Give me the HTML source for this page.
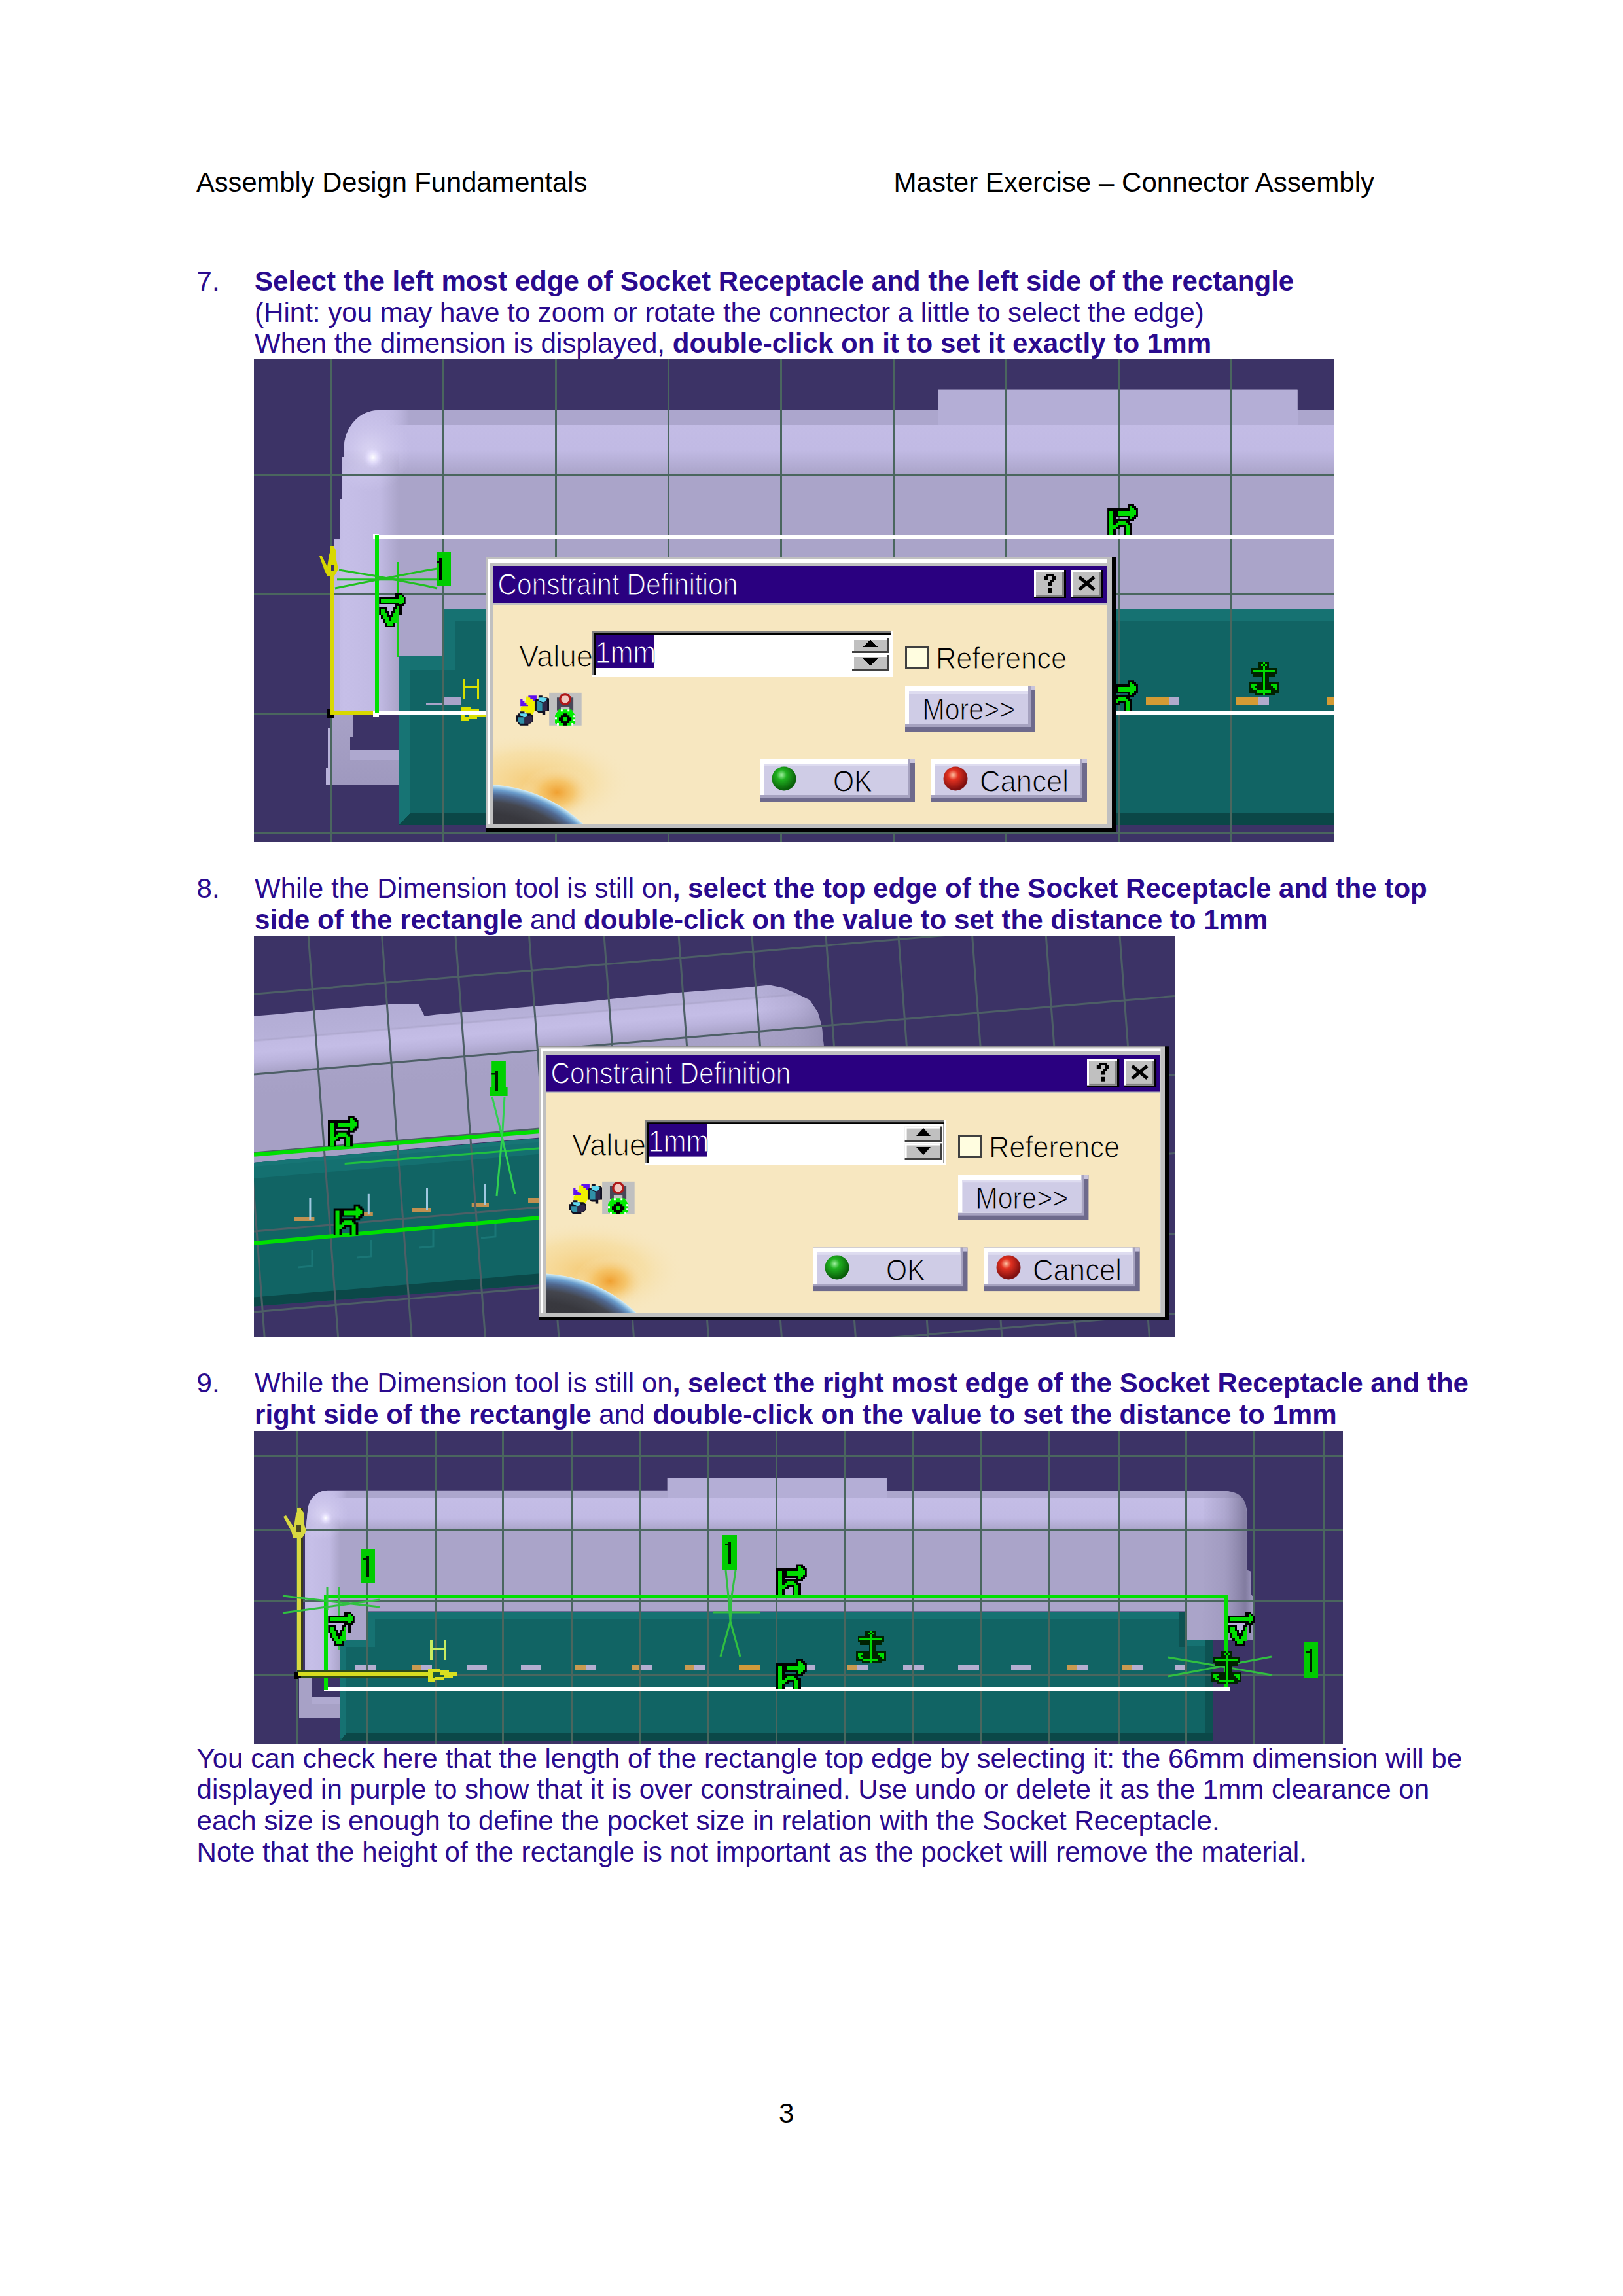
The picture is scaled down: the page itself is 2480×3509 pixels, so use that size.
<!DOCTYPE html>
<html><head><meta charset="utf-8">
<style>
html,body{margin:0;padding:0;background:#fff;}
body{width:2480px;height:3509px;position:relative;overflow:hidden;font-family:"Liberation Sans",sans-serif;}
.t{position:absolute;white-space:pre;font-size:42.1px;line-height:47.9px;color:#2a0a8e;}
.k{color:#000;}
b{font-weight:bold;}
.img{position:absolute;overflow:hidden;}
.img svg{display:block;}
</style></head><body>
<svg width="0" height="0" style="position:absolute">
<defs>
<symbol id="icH" viewBox="280 258 1085 1077">
 <path fill="#000" fill-rule="evenodd" d="M280 395 H1000 V258 H1225 V325 H1300 V395 H1365 V690 H1300 V760 H1225 V830 H1070 V905 H1160 V1335 H860 V1060 H720 V1140 H575 V1335 H280 Z M580 700 H1000 V760 H580 Z"/>
 <path fill="#00dd00" d="M350 490 H490 V1335 H350 Z M650 490 H1070 V650 H650 Z M1070 325 H1160 V395 H1225 V460 H1300 V620 H1225 V690 H1160 V760 H1070 Z M650 830 H940 V905 H1000 V970 H1070 V1335 H930 V990 H650 V1060 H580 V1130 H490 V980 H580 V905 H650 Z"/>
</symbol>
<symbol id="icV" viewBox="250 300 1095 1420">
 <path fill="#000" d="M250 460 H920 V300 H1190 V380 H1270 V460 H1345 V770 H1270 V850 H1190 V1210 H1085 V850 H1000 V1540 H920 V1720 H520 V1540 H410 V1380 H330 V1210 H250 Z"/>
 <path fill="#b9b2dc" d="M250 770 H920 V870 H250 Z M590 870 H840 V1060 H760 V1210 H680 V1060 H590 Z"/>
 <path fill="#00dd00" d="M330 545 H1085 V380 H1190 V460 H1270 V690 H1190 V770 H1085 V690 H330 Z M330 960 H510 V1130 H590 V1300 H680 V1460 H760 V1300 H840 V1130 H920 V960 H1000 V1540 H840 V1640 H600 V1540 H520 V1380 H410 V1210 H330 Z"/>
 <path fill="#000" d="M680 1210 H760 V1460 H680 Z"/>
</symbol>
<symbol id="icA" viewBox="205 175 1160 1245">
 <path fill="#002200" d="M575 175 H970 V400 H1300 V620 H1195 V715 H970 V955 H1365 V1340 H1195 V1420 H430 V1340 H205 V955 H720 V715 H355 V620 H280 V400 H575 Z"/>
 <path fill="#00dd00" d="M350 480 H1200 V550 H350 Z M750 330 H830 V1420 H750 Z M280 1030 H500 V1110 H420 V1180 H500 V1250 H350 V1180 H280 Z M1050 1030 H1300 V1250 H1195 V1180 H1130 V1110 H1050 Z M500 1250 H1050 V1340 H500 Z M680 250 H750 V320 H680 Z M830 250 H900 V320 H830 Z M750 175 H830 V250 H750 Z"/>
</symbol>
<radialGradient id="a1earth" cx="0.5" cy="0.5" r="0.5">
 <stop offset="0" stop-color="#303034"/><stop offset="0.8" stop-color="#38383e"/><stop offset="0.88" stop-color="#44464e"/><stop offset="0.93" stop-color="#506890"/><stop offset="0.965" stop-color="#6a9ccc"/><stop offset="0.99" stop-color="#b0d8ee"/><stop offset="1" stop-color="#e0f0f4"/>
</radialGradient>
<radialGradient id="a1glowY" cx="0.5" cy="0.5" r="0.5">
 <stop offset="0" stop-color="#f5c870" stop-opacity="0.9"/><stop offset="0.6" stop-color="#f6d890" stop-opacity="0.5"/><stop offset="1" stop-color="#f7e7c0" stop-opacity="0"/>
</radialGradient>
<radialGradient id="a1glow" cx="0.5" cy="0.5" r="0.5">
 <stop offset="0" stop-color="#f0a030"/><stop offset="0.45" stop-color="#f5c060" stop-opacity="0.8"/><stop offset="1" stop-color="#f7e7c0" stop-opacity="0"/>
</radialGradient>
<radialGradient id="a1gball" cx="0.4" cy="0.35" r="0.6">
 <stop offset="0" stop-color="#a0f0a0"/><stop offset="0.35" stop-color="#20b020"/><stop offset="1" stop-color="#0a600a"/>
</radialGradient>
<radialGradient id="a1rball" cx="0.4" cy="0.35" r="0.6">
 <stop offset="0" stop-color="#ffc0a0"/><stop offset="0.35" stop-color="#e03020"/><stop offset="1" stop-color="#801010"/>
</radialGradient>
<g id="dlg">
<!-- DIALOG -->
<rect x="742.5" y="852.3" width="962.5" height="418.7" fill="#000"/>
<rect x="742.5" y="852.3" width="956.5" height="413.7" fill="#c0c0c0"/>
<rect x="745" y="855.4" width="947.4" height="404" fill="#ffffff"/>
<rect x="748.7" y="860" width="943.7" height="399" fill="#c0c0c0"/>
<rect x="754" y="865" width="937" height="56.5" fill="#2a0080"/>
<rect x="754" y="924" width="938" height="335" fill="#f7e7c0"/>
<!-- earth -->

<clipPath id="a1clip"><rect x="754" y="924" width="938" height="335"/></clipPath>
<g clip-path="url(#a1clip)" shape-rendering="geometricPrecision">
 <ellipse cx="815" cy="1195" rx="150" ry="75" fill="url(#a1glowY)"/>
 <ellipse cx="851" cy="1211" rx="55" ry="40" fill="url(#a1glow)"/>
 <circle cx="740" cy="1420" r="221" fill="url(#a1earth)"/>
</g>
<text x="760.6" y="909.3" font-family="Liberation Sans" font-size="45.5" fill="#ffffff" stroke="#2a0080" stroke-width="1.2" textLength="366.8" lengthAdjust="spacingAndGlyphs">Constraint Definition</text>
<!-- ? and X buttons -->
<g>
 <rect x="1580" y="871.2" width="49.3" height="42.8" fill="#000"/><rect x="1580" y="871.2" width="46" height="40.5" fill="#fff"/><rect x="1583.2" y="874" width="42.8" height="37.7" fill="#808080"/><rect x="1583.2" y="874" width="39.7" height="34.9" fill="#c0c0c0"/>
 <rect x="1636" y="871.2" width="50.1" height="42.8" fill="#000"/><rect x="1636" y="871.2" width="47" height="40.5" fill="#fff"/><rect x="1639.2" y="874" width="43.8" height="37.7" fill="#808080"/><rect x="1639.2" y="874" width="40.7" height="34.9" fill="#c0c0c0"/>
 <path fill="#000" d="M1598 877.2 H1610.8 V880.4 H1614 V886.8 H1610.8 V890 H1607.6 V895.6 H1601.2 V890 H1604.4 V886.8 H1607.6 V880.4 H1601.2 V886.8 H1594.8 V880.4 H1598 Z M1601.2 898.8 H1607.6 V905.7 H1601.2 Z"/>
 <path d="M1649 882 L1672 901 M1672 882 L1649 901" stroke="#000" stroke-width="5" shape-rendering="geometricPrecision"/>
</g>
<text x="793" y="1019.2" font-family="Liberation Sans" font-size="45.5" fill="#000" stroke="#f7e7c0" stroke-width="1.1" textLength="113" lengthAdjust="spacingAndGlyphs">Value</text>
<!-- input field -->
<rect x="904" y="965" width="460" height="69" fill="#ffffff"/>
<rect x="904" y="965" width="457" height="66" fill="#808080"/>
<rect x="907.4" y="968.2" width="453.6" height="62.8" fill="#000"/>
<rect x="910.6" y="971" width="450" height="60" fill="#ffffff"/>
<rect x="910.6" y="971" width="89.4" height="49.6" fill="#2a0080"/>
<text x="909.7" y="1013.3" font-family="Liberation Sans" font-size="45.5" fill="#ffffff" stroke="#2a0080" stroke-width="1.1" textLength="92.6" lengthAdjust="spacingAndGlyphs">1mm</text>
<!-- spinner -->
<rect x="1301.6" y="974.6" width="57" height="23.3" fill="#c0c0c0"/>
<rect x="1301.6" y="974.6" width="54" height="3" fill="#fff"/><rect x="1301.6" y="974.6" width="3" height="21" fill="#fff"/>
<rect x="1301.6" y="995" width="57" height="3" fill="#404040"/><rect x="1355.6" y="974.6" width="3" height="23.3" fill="#404040"/>
<rect x="1301.6" y="1000.5" width="57" height="25.5" fill="#c0c0c0"/>
<rect x="1301.6" y="1000.5" width="54" height="3" fill="#fff"/><rect x="1301.6" y="1000.5" width="3" height="23" fill="#fff"/>
<rect x="1301.6" y="1023" width="57" height="3" fill="#404040"/><rect x="1355.6" y="1000.5" width="3" height="25.5" fill="#404040"/>
<path d="M1330 977 L1341 989 L1319 989 Z" fill="#000"/>
<path d="M1319 1006 L1341 1006 L1330 1018 Z" fill="#000"/>
<!-- checkbox -->
<rect x="1383" y="987.5" width="36.4" height="35.5" fill="#404040"/>
<rect x="1386" y="990.5" width="30.4" height="29.5" fill="#fffde0"/>
<text x="1430" y="1022.2" font-family="Liberation Sans" font-size="45.5" fill="#000" stroke="#f7e7c0" stroke-width="1.1" textLength="200" lengthAdjust="spacingAndGlyphs">Reference</text>
<!-- More button -->
<g>
 <rect x="1383.0" y="1049.0" width="199.4" height="68.7" fill="#6e6a8c"/>
 <rect x="1383.0" y="1049.0" width="192.4" height="61.7" fill="#a6a2c0"/>
 <rect x="1383.0" y="1049.0" width="188.4" height="57.7" fill="#ffffff"/>
 <rect x="1389.4" y="1056.2" width="182.0" height="50.5" fill="#cfcce6"/>
 <rect x="1389.4" y="1056.2" width="182.0" height="4" fill="#dedcf0"/>
 <rect x="1575.4" y="1049.0" width="7" height="6" fill="#c8c4dc"/>
 <text x="1409.4" y="1100.3" font-family="Liberation Sans" font-size="45.5" fill="#000" stroke="#cfcce6" stroke-width="1.1" textLength="141.8" lengthAdjust="spacingAndGlyphs">More&gt;&gt;</text>
</g>
<!-- OK button -->
<g>
 <rect x="1161.2" y="1159.6" width="236.3" height="66.5" fill="#6e6a8c"/>
 <rect x="1161.2" y="1159.6" width="229.3" height="59.5" fill="#a6a2c0"/>
 <rect x="1161.2" y="1159.6" width="225.3" height="55.5" fill="#ffffff"/>
 <rect x="1167.6" y="1166.8" width="218.9" height="48.3" fill="#cfcce6"/>
 <rect x="1167.6" y="1166.8" width="218.9" height="4" fill="#dedcf0"/>
 <rect x="1390.5" y="1159.6" width="7" height="6" fill="#c8c4dc"/>
 <circle cx="1198" cy="1190" r="18.5" fill="url(#a1gball)" shape-rendering="geometricPrecision"/>
 <text x="1273" y="1209.6" font-family="Liberation Sans" font-size="45.5" fill="#000" stroke="#cfcce6" stroke-width="1.1" textLength="59.8" lengthAdjust="spacingAndGlyphs">OK</text>
</g>
<g>
 <rect x="1422.6" y="1159.6" width="238.1" height="66.5" fill="#6e6a8c"/>
 <rect x="1422.6" y="1159.6" width="231.1" height="59.5" fill="#a6a2c0"/>
 <rect x="1422.6" y="1159.6" width="227.1" height="55.5" fill="#ffffff"/>
 <rect x="1429.0" y="1166.8" width="220.7" height="48.3" fill="#cfcce6"/>
 <rect x="1429.0" y="1166.8" width="220.7" height="4" fill="#dedcf0"/>
 <rect x="1653.7" y="1159.6" width="7" height="6" fill="#c8c4dc"/>
 <circle cx="1460" cy="1190" r="18.5" fill="url(#a1rball)" shape-rendering="geometricPrecision"/>
 <text x="1497" y="1209.6" font-family="Liberation Sans" font-size="45.5" fill="#000" stroke="#cfcce6" stroke-width="1.1" textLength="136" lengthAdjust="spacingAndGlyphs">Cancel</text>
</g>
<!-- dialog icons -->
<g transform="translate(780 1040) scale(0.07394)" shape-rendering="geometricPrecision">
 <path fill="#f0f000" d="M330 330 H420 L500 380 V620 L460 700 H370 L290 640 H210 V560 L290 500 Z"/>
 <path fill="#6010f0" d="M205 380 H250 V420 H290 V460 H330 V500 H365 V530 H205 Z M370 300 H540 V420 H470 V380 H410 V340 H370 Z"/>
 <path fill="#101020" d="M580 300 H660 V340 H760 L800 380 V630 H720 V710 H660 V670 H580 L540 630 H500 V420 L540 380 H580 Z"/>
 <path fill="#60d8f0" d="M580 340 H700 L760 380 L700 460 L580 420 Z"/>
 <path fill="#3090a8" d="M540 420 L660 460 V630 H540 Z"/>
 <path fill="#302848" d="M660 460 L760 420 V630 H660 Z"/>
 <path fill="#101020" d="M200 640 H290 V680 H410 L460 720 V850 L410 890 H370 V930 H200 L160 890 V850 H120 V720 H160 V680 H200 Z"/>
 <path fill="#60d8f0" d="M200 680 H330 L370 760 H280 L200 720 Z"/>
 <path fill="#3090a8" d="M160 760 H290 V890 H200 L160 850 Z"/>
 <path fill="#302848" d="M290 760 L410 720 L450 760 V850 L370 890 H290 Z"/>
 <rect x="800" y="255" width="670" height="675" fill="#c0c0c0"/>
 <path fill="#484858" d="M960 340 H1300 V620 H1220 V540 H1040 V620 H960 Z"/>
 <circle cx="1130" cy="385" r="105" fill="#f0c8c0" stroke="#b01818" stroke-width="45"/>
 <path fill="#00ee00" d="M1000 600 H1260 L1340 720 V880 L1260 930 H1000 L920 880 V720 Z"/>
 <path fill="#000" d="M1090 680 H1170 V720 H1220 V760 H1260 V840 H1220 V880 H1170 V930 H1090 V880 H1040 V840 H1000 V760 H1040 V720 H1090 Z M1090 760 V840 H1170 V760 Z" fill-rule="evenodd"/>
 <path fill="#00ee00" d="M1090 760 H1170 V840 H1090 Z"/>
 <path fill="#ffffff" d="M920 760 H960 V800 H920 Z M1300 720 H1340 V760 H1300 Z M1300 800 H1340 V840 H1300 Z M960 880 H1000 V930 H960 Z M1260 880 H1300 V930 H1260 Z M1040 600 H1080 V640 H1040 Z M1180 600 H1220 V640 H1180 Z"/>
</g>
</g>
</defs>
</svg>

<div class="t k" style="left:300px;top:254.6px;font-size:41.67px">Assembly Design Fundamentals</div>
<div class="t k" style="left:1365.5px;top:254.6px">Master Exercise – Connector Assembly</div>

<div class="t" style="left:300.5px;top:405.6px">7.</div>
<div class="t" style="left:389px;top:405.6px"><b>Select the left most edge of Socket Receptacle and the left side of the rectangle</b>
(Hint: you may have to zoom or rotate the connector a little to select the edge)
When the dimension is displayed, <b>double-click on it to set it exactly to 1mm</b></div>

<div class="t" style="left:300.5px;top:1334.4px">8.</div>
<div class="t" style="left:389px;top:1334.4px">While the Dimension tool is still on<b>, select the top edge of the Socket Receptacle and the top</b>
<b>side of the rectangle</b> and <b>double-click on the value to set the distance to 1mm</b></div>

<div class="t" style="left:300.5px;top:2089.8px">9.</div>
<div class="t" style="left:389px;top:2089.8px">While the Dimension tool is still on<b>, select the right most edge of the Socket Receptacle and the</b>
<b>right side of the rectangle</b> and <b>double-click on the value to set the distance to 1mm</b></div>

<div class="t" style="left:300.5px;top:2663.5px">You can check here that the length of the rectangle top edge by selecting it: the 66mm dimension will be
displayed in purple to show that it is over constrained. Use undo or delete it as the 1mm clearance on
each size is enough to define the pocket size in relation with the Socket Receptacle.
Note that the height of the rectangle is not important as the pocket will remove the material.</div>

<div class="t k" style="left:1190px;top:3205.6px">3</div>

<!-- IMAGE 1 -->
<div class="img" id="im1" style="left:388px;top:549px;width:1651px;height:738px;background:#3c3366"><svg width="1651" height="738" viewBox="388 549 1651 738" shape-rendering="crispEdges">
<defs>
<linearGradient id="a1tb" gradientUnits="userSpaceOnUse" x1="585" y1="0" x2="625" y2="0"><stop offset="0" stop-color="#c4bde6" stop-opacity="0"/><stop offset="1" stop-color="#aca6cd"/></linearGradient>
<linearGradient id="a1colfade" gradientUnits="userSpaceOnUse" x1="0" y1="690" x2="0" y2="728"><stop offset="0" stop-color="#fff" stop-opacity="0"/><stop offset="1" stop-color="#fff"/></linearGradient>
<radialGradient id="a1glowc" gradientUnits="userSpaceOnUse" cx="566" cy="690" r="62"><stop offset="0" stop-color="#f0ecff" stop-opacity="0.55"/><stop offset="0.5" stop-color="#e8e2ff" stop-opacity="0.25"/><stop offset="1" stop-color="#e0daff" stop-opacity="0"/></radialGradient>
<radialGradient id="a1corner" gradientUnits="userSpaceOnUse" cx="568" cy="692" r="62"><stop offset="0" stop-color="#e2dcff"/><stop offset="0.35" stop-color="#d4cef6"/><stop offset="0.75" stop-color="#c5bfe7"/><stop offset="1" stop-color="#bfb8e1"/></radialGradient>
<linearGradient id="a1hb" x1="0" y1="0" x2="0" y2="1">
 <stop offset="0" stop-color="#c4bde6"/><stop offset="0.62" stop-color="#c1bae4"/><stop offset="1" stop-color="#aaa4c9"/>
</linearGradient>
<linearGradient id="a1col" x1="0" y1="0" x2="1" y2="0">
 <stop offset="0" stop-color="#c0b9e2"/><stop offset="0.2" stop-color="#c6bfe8"/><stop offset="0.72" stop-color="#c0b9e2"/><stop offset="1" stop-color="#aaa4c9"/>
</linearGradient>
<radialGradient id="a1spec" cx="0.5" cy="0.5" r="0.5">
 <stop offset="0" stop-color="#ffffff"/><stop offset="0.5" stop-color="#e6e0ff" stop-opacity="0.7"/><stop offset="1" stop-color="#d0c9f0" stop-opacity="0"/>
</radialGradient>
<linearGradient id="a1L" x1="0" y1="0" x2="0" y2="1">
 <stop offset="0" stop-color="#a7a1c6"/><stop offset="1" stop-color="#9f99bf"/>
</linearGradient>
</defs>
<rect x="388" y="549" width="1651" height="738" fill="#3c3366"/>

<!-- lavender main body -->
<clipPath id="a1bodyclip"><path d="M511 1093 L511 824 L519.6 824 L519.6 762 L522.7 762 L522.7 699 L525.7 699 L525.7 685 A53 58 0 0 1 578.7 626.9 L1433 626.9 L1433 595.6 L1982.6 595.6 L1982.6 626.9 L2039 626.9 L2039 931 L678 931 L678 1003 L610 1003 L610 1093 Z"/></clipPath>
<mask id="a1colmask" maskUnits="userSpaceOnUse" x="500" y="600" width="120" height="500"><rect x="500" y="600" width="120" height="500" fill="url(#a1colfade)"/></mask>
<path d="M511 1093 L511 824 L519.6 824 L519.6 762 L522.7 762 L522.7 699 L525.7 699 L525.7 685 A53 58 0 0 1 578.7 626.9 L1433 626.9 L1433 595.6 L1982.6 595.6 L1982.6 626.9 L2039 626.9 L2039 931 L678 931 L678 1003 L610 1003 L610 1093 Z" fill="#aaa4c9" shape-rendering="geometricPrecision"/>
<g clip-path="url(#a1bodyclip)">
<rect x="511" y="626.9" width="1528" height="98.1" fill="url(#a1hb)"/>
<rect x="505" y="680" width="105" height="413" fill="url(#a1col)" mask="url(#a1colmask)"/>
<rect x="578.7" y="626.9" width="854.3" height="21.8" fill="url(#a1tb)"/>
<rect x="1433" y="595.6" width="549.6" height="53.1" fill="#b4aed6"/>
<rect x="1982.6" y="626.9" width="57" height="21.8" fill="#aca6cd"/>
<circle cx="566" cy="690" r="62" fill="url(#a1glowc)"/>
</g>
<rect x="511" y="824" width="8.6" height="269" fill="#bdb6e0"/>
<ellipse cx="570" cy="699" rx="17" ry="18" fill="url(#a1spec)" shape-rendering="geometricPrecision"/>
<!-- L piece below column -->
<path d="M507 1093 L538.5 1093 L538.5 1126 L534.7 1126 L534.7 1146 L610 1146 L610 1198.6 L507 1198.6 Z" fill="url(#a1L)"/>
<rect x="534.7" y="1146" width="75.3" height="15.7" fill="#aea8cf"/>
<rect x="498" y="1174" width="9" height="24.6" fill="#b8b2da"/>
<rect x="501" y="1112" width="4" height="62" fill="#b8b2da"/>

<!-- teal part -->
<path d="M678 931 L2039 931 L2039 1261 L610 1261 L610 1003 L678 1003 Z" fill="#116464"/>
<rect x="678" y="931" width="1361" height="18" fill="#167272"/>
<rect x="678" y="931" width="17" height="93" fill="#167272"/>
<rect x="610" y="1003" width="85" height="21" fill="#167272"/>
<path d="M610 1003 L626 1003 L626 1243 L610 1259 Z" fill="#177474"/>
<path d="M626 1243 L2039 1243 L2039 1261 L610 1261 Z" fill="#0b4747"/>
<rect x="651" y="1074" width="25" height="3" fill="#a9a3c9"/>
<rect x="678.7" y="1064.6" width="25.3" height="12.4" fill="#a9a3c9"/>
<g fill="#d49a34">
 <rect x="1751" y="1065" width="35" height="12"/><rect x="1889" y="1065" width="34" height="12"/><rect x="2027" y="1065" width="12" height="12"/>
</g>
<g fill="#b0aacc">
 <rect x="1786" y="1065" width="15" height="12"/><rect x="1923" y="1065" width="16" height="12"/>
</g>

<!-- grid -->
<g fill="#4a665e">
 <rect x="504.3" y="549" width="3" height="738"/><rect x="676.3" y="549" width="3" height="738"/><rect x="848.2" y="549" width="3" height="738"/>
 <rect x="1020.1" y="549" width="3" height="738"/><rect x="1192" y="549" width="3" height="738"/><rect x="1364.1" y="549" width="3" height="738"/>
 <rect x="1536" y="549" width="3" height="738"/><rect x="1708.1" y="549" width="3" height="738"/><rect x="1880" y="549" width="3" height="738"/>
 <rect x="388" y="724" width="1651" height="3"/><rect x="388" y="905.7" width="1651" height="3"/><rect x="388" y="1090.1" width="1651" height="3"/><rect x="388" y="1271" width="1651" height="3"/>
</g>

<!-- white rectangle lines -->
<rect x="570" y="818.3" width="1469" height="5.7" fill="#ffffff"/>
<rect x="570" y="1087" width="1469" height="6" fill="#ffffff"/>
<rect x="570" y="816" width="9" height="8" fill="#ffffff"/>
<rect x="570" y="1087" width="9" height="9" fill="#ffffff"/>
<!-- green thick vertical -->
<rect x="573.3" y="818" width="5.7" height="272" fill="#00e000"/>
<!-- thin green vertical -->
<rect x="606.7" y="859" width="3.6" height="145" fill="#10d010"/>
<!-- green dimension X lines -->
<g stroke="#20c020" stroke-width="3" fill="none" shape-rendering="geometricPrecision">
 <path d="M518 871 L572 880 L650 895 L668 899"/>
 <path d="M512 899 L572 887 L650 872 L668 869"/>
 <path d="M515 885.8 L668 885.8"/>
</g>
<rect x="666.5" y="842.9" width="22.4" height="52.7" fill="#00cc00"/>
<rect x="667" y="857" width="4" height="4" fill="#000"/>
<rect x="671" y="853" width="4.5" height="34" fill="#000"/>
<!-- yellow axis -->
<rect x="504" y="834" width="6.2" height="259" fill="#d8d800"/>
<rect x="504" y="1087" width="66" height="6" fill="#d8d800"/>
<path d="M507 834 L513 840 L514 856 L517 870 L511 880 L500 880 L496 872 L488 850 L492 850 L500 866 L503 848 Z" fill="#d8d800" shape-rendering="geometricPrecision"/>
<rect x="506" y="864" width="5" height="8" fill="#3c3366"/>
<rect x="499" y="1084" width="5" height="14" fill="#000"/>
<rect x="499" y="1093" width="12" height="4" fill="#000"/>
<use href="#icV" x="579.2" y="906.1" width="40.5" height="52.5"/>
<!-- H label + arrow -->
<g fill="#d8e000">
 <rect x="706.9" y="1036.8" width="3" height="31.1"/><rect x="728.7" y="1036.8" width="3.3" height="31.1"/><rect x="706.9" y="1049" width="25" height="3"/>
 <path d="M704 1080.1 H719.9 V1084.2 H732 V1087.1 H742 V1096 H728.7 V1098.9 H716.9 V1101.9 H704 Z"/>
</g>
<rect x="709.9" y="1092.7" width="7" height="2.9" fill="#116464"/>
<rect x="704" y="1087" width="38" height="6" fill="#ffffff"/>
<use href="#icH" x="1692.1" y="771.1" width="46.8" height="46.4"/>
<use href="#icH" x="1692.1" y="1040.2" width="46.8" height="46.4"/>
<use href="#icA" x="1908.2" y="1012" width="46.5" height="49.9"/>
<use href="#dlg"/>
</svg>
</div>
<!-- IMAGE 2 -->
<div class="img" id="im2" style="left:388px;top:1430px;width:1407px;height:614px;background:#3c3366"><svg width="1407" height="614" viewBox="388 1430 1407 614">
<defs>
<linearGradient id="a2slab" gradientUnits="userSpaceOnUse" x1="646.9" y1="1532.8" x2="657.1" y2="1652.3"><stop offset="0.000" stop-color="#b3add5"/><stop offset="0.167" stop-color="#b5afd7"/><stop offset="0.275" stop-color="#b7b1d9"/><stop offset="0.296" stop-color="#aea8ce"/><stop offset="0.317" stop-color="#c1bae3"/><stop offset="0.450" stop-color="#c4bde6"/><stop offset="0.567" stop-color="#bbb4dd"/><stop offset="0.717" stop-color="#a8a2c7"/><stop offset="1.000" stop-color="#a6a0c5"/></linearGradient>
<linearGradient id="a2end" gradientUnits="userSpaceOnUse" x1="1150" y1="0" x2="1260" y2="0"><stop offset="0" stop-color="#9a94ba" stop-opacity="0"/><stop offset="0.6" stop-color="#9a94ba" stop-opacity="0.35"/><stop offset="1" stop-color="#8e88ae" stop-opacity="0.7"/></linearGradient>
</defs>
<rect x="388" y="1430" width="1407" height="614" fill="#3c3366"/>
<path d="M388.0 1552.7 L423.0 1549.9 L460.0 1546.2 L495.0 1542.9 L532.0 1540.3 L567.0 1537.3 L604.0 1534.2 L639.4 1534.2 L648.6 1552.7 L667.0 1550.5 L888.0 1531.7 L991.0 1520.9 L1064.9 1514.7 L1135.7 1509.5 L1175.7 1505.5 L1197.3 1510.0 L1218.9 1519.3 L1237.4 1528.6 L1249.7 1547.0 L1255.8 1568.6 L1258.9 1599.4 L1262.0 1760.0 L1262.0 1700.0 L388.0 1777.0 Z" fill="url(#a2slab)"/>
<path d="M1150 1500 L1175.7 1505.5 L1197.3 1510 L1218.9 1519.3 L1237.4 1528.6 L1249.7 1547 L1255.8 1568.6 L1258.9 1599.4 L1262 1760 L1150 1760 Z" fill="url(#a2end)"/>
<path d="M388 1777 L1262 1702.5 L1262 1929.7 L388 1996.4 Z" fill="#116464"/>
<path d="M388 1777 L1262 1702.5 L1262 1726.5 L388 1801 Z" fill="#147070"/>
<path d="M388 1777 L1262 1702.5 L1262 1708.5 L388 1783 Z" fill="#177575"/>
<path d="M388 1982.6 L1262 1910.1 L1262 1929.7 L388 1996.4 Z" fill="#0b4848"/>
<path d="M477 1910 L477 1935 L455 1937" stroke="#1a7676" stroke-width="3" fill="none"/>
<path d="M567 1895 L567 1920 L545 1922" stroke="#1a7676" stroke-width="3" fill="none"/>
<path d="M662 1880 L662 1905 L640 1907" stroke="#1a7676" stroke-width="3" fill="none"/>
<path d="M757 1865 L757 1890 L735 1892" stroke="#1a7676" stroke-width="3" fill="none"/>
<rect x="449.6" y="1860.0" width="30.8" height="6" fill="#c09050"/>
<rect x="472.4" y="1831.0" width="3" height="33.0" fill="#a0c8e0"/>
<rect x="554.0" y="1852.2" width="15.8" height="6" fill="#c09050"/>
<rect x="561.8" y="1824.8" width="3" height="31.4" fill="#a0c8e0"/>
<rect x="630.0" y="1846.0" width="29.0" height="6" fill="#c09050"/>
<rect x="651.0" y="1815.5" width="3" height="34.5" fill="#a0c8e0"/>
<rect x="720.7" y="1838.0" width="26.3" height="6" fill="#c09050"/>
<rect x="739.0" y="1809.0" width="3" height="33.0" fill="#a0c8e0"/>
<rect x="807" y="1831" width="16" height="8" fill="#c09050"/>
<path d="M358.8 1430 L404.2 2044 M471.2 1430 L516.6 2044 M583.6 1430 L629.0 2044 M696.0 1430 L741.4 2044 M808.5 1430 L853.9 2044 M923.1 1430 L968.5 2044 M1037.1 1430 L1082.5 2044 M1149.0 1430 L1194.4 2044 M1262.0 1430 L1307.4 2044 M1372.9 1430 L1418.3 2044 M1485.6 1430 L1531.0 2044 M1598.3 1430 L1643.7 2044 M1711.0 1430 L1756.4 2044 M388 1519.3 L1795 1399.7 M388 1642.0 L1795 1522.4 M388 1762.0 L1795 1642.4 M388 1882.0 L1795 1762.4 M388 2005.0 L1795 1885.4 M388 2127.0 L1795 2007.4" stroke="#4d5f66" stroke-width="3" fill="none"/>
<path d="M388 1764.7 L1262 1693.5" stroke="#00e000" stroke-width="6" fill="none"/>
<path d="M388 1900 L1262 1822" stroke="#00e000" stroke-width="6" fill="none"/>
<path d="M526.6 1778.6 L1262 1720" stroke="#20c040" stroke-width="3" fill="none"/>
<path d="M752 1676 L765 1728 L787 1825 M771 1676 L768 1728 L759 1828" stroke="#30d050" stroke-width="3" fill="none"/>
<path d="M751.2 1621.2 H772.9 V1662 H775.6 V1675.1 H748.4 V1662 H751.2 Z" fill="#00d000"/>
<path d="M757 1637 H761 V1667.5 H757 Z M751.2 1640 H757 V1642.5 H751.2 Z" fill="#001a00"/>
<use href="#icH" x="501" y="1706" width="46.8" height="46.4"/>
<use href="#icH" x="509.5" y="1840.5" width="46.8" height="46.4"/>
<use href="#dlg" x="81" y="747"/>
</svg></div>
<!-- IMAGE 3 -->
<div class="img" id="im3" style="left:388px;top:2187px;width:1664px;height:478px;background:#3c3366"><svg width="1664" height="478" viewBox="388 2187 1664 478" shape-rendering="crispEdges">
<defs>
<linearGradient id="a3hb" x1="0" y1="0" x2="0" y2="1"><stop offset="0" stop-color="#c4bde6"/><stop offset="0.2" stop-color="#c4bde6"/><stop offset="0.7" stop-color="#c1bae4"/><stop offset="1" stop-color="#aaa4c9"/></linearGradient>
<linearGradient id="a3col" x1="0" y1="0" x2="1" y2="0"><stop offset="0" stop-color="#c0b9e2"/><stop offset="0.2" stop-color="#c6bfe8"/><stop offset="0.72" stop-color="#c0b9e2"/><stop offset="1" stop-color="#aaa4c9"/></linearGradient>
<linearGradient id="a3end" gradientUnits="userSpaceOnUse" x1="1835" y1="0" x2="1914.6" y2="0"><stop offset="0" stop-color="#9a94ba" stop-opacity="0"/><stop offset="0.45" stop-color="#9a94ba" stop-opacity="0.5"/><stop offset="0.85" stop-color="#7a7498" stop-opacity="0.85"/><stop offset="1" stop-color="#9e98c0" stop-opacity="0.9"/></linearGradient>
<linearGradient id="a3tb" gradientUnits="userSpaceOnUse" x1="505" y1="0" x2="530" y2="0"><stop offset="0" stop-color="#c4bde6" stop-opacity="0"/><stop offset="1" stop-color="#aca6cd"/></linearGradient>
<linearGradient id="a3colfade" gradientUnits="userSpaceOnUse" x1="0" y1="2318" x2="0" y2="2340"><stop offset="0" stop-color="#fff" stop-opacity="0"/><stop offset="1" stop-color="#fff"/></linearGradient>
<radialGradient id="a3glowc" gradientUnits="userSpaceOnUse" cx="494" cy="2316" r="38"><stop offset="0" stop-color="#f0ecff" stop-opacity="0.55"/><stop offset="0.5" stop-color="#e8e2ff" stop-opacity="0.25"/><stop offset="1" stop-color="#e0daff" stop-opacity="0"/></radialGradient>
<radialGradient id="a3spec" cx="0.5" cy="0.5" r="0.5"><stop offset="0" stop-color="#ffffff"/><stop offset="0.5" stop-color="#e6e0ff" stop-opacity="0.7"/><stop offset="1" stop-color="#d0c9f0" stop-opacity="0"/></radialGradient>
</defs>
<rect x="388" y="2187" width="1664" height="478" fill="#3c3366"/>
<clipPath id="a3bodyclip"><path d="M466 2562 L466 2340 L468 2330 L469.9 2311 A30.5 33.3 0 0 1 500.4 2277.7 L1019.6 2277.7 L1019.6 2258.9 L1354.9 2258.9 L1354.9 2278.9 L1873.5 2278.9 Q1904 2282 1905 2310 L1906 2400 L1911.5 2402 L1911.5 2437 L1914.6 2440 L1914.6 2507 L1811.5 2507 L1811.5 2462.6 L560.5 2462.6 L560.5 2506 L519.8 2506 L519.8 2562 Z"/></clipPath>
<mask id="a3colmask" maskUnits="userSpaceOnUse" x="450" y="2250" width="90" height="330"><rect x="450" y="2250" width="90" height="330" fill="url(#a3colfade)"/></mask>
<path d="M466 2562 L466 2340 L468 2330 L469.9 2311 A30.5 33.3 0 0 1 500.4 2277.7 L1019.6 2277.7 L1019.6 2258.9 L1354.9 2258.9 L1354.9 2278.9 L1873.5 2278.9 Q1904 2282 1905 2310 L1906 2400 L1911.5 2402 L1911.5 2437 L1914.6 2440 L1914.6 2507 L1811.5 2507 L1811.5 2462.6 L560.5 2462.6 L560.5 2506 L519.8 2506 L519.8 2562 Z" fill="#aaa4c9" shape-rendering="geometricPrecision"/>
<g clip-path="url(#a3bodyclip)">
<rect x="460" y="2277.7" width="1460" height="60.1" fill="url(#a3hb)"/>
<rect x="462" y="2310" width="58" height="252" fill="url(#a3col)" mask="url(#a3colmask)"/>
<rect x="500.4" y="2277.7" width="519.2" height="11.1" fill="url(#a3tb)"/>
<rect x="1019.6" y="2258.9" width="335.3" height="29.9" fill="#b4aed6"/>
<rect x="1354.9" y="2278.9" width="560" height="9.9" fill="#aca6cd"/>
<circle cx="494" cy="2316" r="38" fill="url(#a3glowc)"/>
</g>
<ellipse cx="497.6" cy="2320" rx="11" ry="12" fill="url(#a3spec)" shape-rendering="geometricPrecision"/>
<path d="M1840 2278.9 L1877 2278.9 Q1904 2282 1905 2310 L1906 2400 L1911.5 2402 L1911.5 2437 L1914.6 2440 L1914.6 2507 L1811.5 2507 L1811.5 2462.6 L1840 2462.6 Z" fill="url(#a3end)" shape-rendering="geometricPrecision"/>
<path d="M457 2562.4 L519.8 2562.4 L519.8 2564 L476.4 2564 L476.4 2593.8 L519.8 2593.8 L519.8 2625.2 L457 2625.2 Z" fill="#a7a1c6"/>
<rect x="476.4" y="2593.8" width="43.4" height="10" fill="#b0aad0"/>
<path d="M560.5 2462.6 L1811.5 2462.6 L1811.5 2507 L1853.5 2507 L1853.5 2661 L519.8 2661 L519.8 2506 L560.5 2506 Z" fill="#116464"/>
<rect x="560.5" y="2462.6" width="1251" height="11" fill="#167272"/>
<rect x="560.5" y="2462.6" width="12" height="54" fill="#167272"/>
<rect x="519.8" y="2506" width="52.7" height="11" fill="#167272"/>
<rect x="519.8" y="2506" width="9.2" height="150" fill="#167272"/>
<rect x="1811.5" y="2507" width="42" height="9" fill="#167272"/>
<rect x="1801.8" y="2463.6" width="9.7" height="53.7" fill="#0d5252"/>
<rect x="1841.9" y="2507" width="11.6" height="142" fill="#0d5252"/>
<path d="M529 2649 L1853.5 2649 L1853.5 2661 L519.8 2661 Z" fill="#0b4848"/>
<rect x="519.8" y="2661" width="1334" height="4" fill="#3c3366"/>
<rect x="541.8" y="2544" width="33.2" height="9" fill="#b4aed0"/>
<rect x="629.0" y="2544" width="15.4" height="9" fill="#c89a50"/><rect x="644.4" y="2544" width="15.4" height="9" fill="#b4aed0"/>
<rect x="713.5" y="2544" width="30.8" height="9" fill="#b4aed0"/>
<rect x="795.5" y="2544" width="30.8" height="9" fill="#b4aed0"/>
<rect x="879.0" y="2544" width="16.0" height="9" fill="#c89a50"/><rect x="895.0" y="2544" width="16.0" height="9" fill="#b4aed0"/>
<rect x="964.7" y="2544" width="15.4" height="9" fill="#c89a50"/><rect x="980.1" y="2544" width="15.4" height="9" fill="#b4aed0"/>
<rect x="1045.7" y="2544" width="15.4" height="9" fill="#c89a50"/><rect x="1061.1" y="2544" width="15.4" height="9" fill="#b4aed0"/>
<rect x="1128.7" y="2544" width="32.3" height="9" fill="#d09a3a"/>
<rect x="1218.0" y="2544" width="26.6" height="9" fill="#b4aed0"/>
<rect x="1294.5" y="2544" width="15.8" height="9" fill="#c89a50"/><rect x="1310.2" y="2544" width="15.8" height="9" fill="#b4aed0"/>
<rect x="1380.0" y="2544" width="31.5" height="9" fill="#b4aed0"/>
<rect x="1464.0" y="2544" width="31.5" height="9" fill="#b4aed0"/>
<rect x="1544.9" y="2544" width="31.5" height="9" fill="#b4aed0"/>
<rect x="1630.4" y="2544" width="15.8" height="9" fill="#c89a50"/><rect x="1646.2" y="2544" width="15.8" height="9" fill="#b4aed0"/>
<rect x="1714.4" y="2544" width="15.8" height="9" fill="#c89a50"/><rect x="1730.2" y="2544" width="15.8" height="9" fill="#b4aed0"/>
<rect x="1796.0" y="2544" width="15.5" height="9" fill="#b4aed0"/>
<g fill="#4a665e"><rect x="453.1" y="2187" width="3" height="478"/><rect x="559.9" y="2187" width="3" height="478"/><rect x="664.9" y="2187" width="3" height="478"/><rect x="767.4" y="2187" width="3" height="478"/><rect x="872.5" y="2187" width="3" height="478"/><rect x="976.0" y="2187" width="3" height="478"/><rect x="1079.5" y="2187" width="3" height="478"/><rect x="1185.2" y="2187" width="3" height="478"/><rect x="1288.8" y="2187" width="3" height="478"/><rect x="1394.3" y="2187" width="3" height="478"/><rect x="1497.7" y="2187" width="3" height="478"/><rect x="1601.6" y="2187" width="3" height="478"/><rect x="1707.7" y="2187" width="3" height="478"/><rect x="1811.1" y="2187" width="3" height="478"/><rect x="1914.0" y="2187" width="3" height="478"/><rect x="2021.6" y="2187" width="3" height="478"/><rect x="388" y="2223.5" width="1664" height="3"/><rect x="388" y="2336.7" width="1664" height="3"/><rect x="388" y="2446.1" width="1664" height="3"/><rect x="388" y="2558.7" width="1664" height="3"/></g>
<rect x="494.9" y="2436.7" width="1382" height="6" fill="#00e000"/>
<rect x="1870" y="2436.7" width="6" height="145" fill="#00e000"/>
<rect x="494.9" y="2578.5" width="1385" height="6" fill="#ffffff"/>
<rect x="494.9" y="2436.7" width="6.4" height="146" fill="#00e000"/>
<rect x="454.2" y="2303.6" width="9.2" height="258.8" fill="#3a3c18"/>
<rect x="454.2" y="2303.6" width="5.8" height="258.8" fill="#d8d840"/>
<rect x="454.2" y="2553.3" width="215" height="11.5" fill="#2e4a18"/>
<rect x="454.2" y="2556.2" width="215" height="5.6" fill="#d8dc20"/>
<path d="M654.2 2550.6 H672.8 V2553.2 H685.7 V2556.2 H697.8 V2561.8 H691.7 V2564.4 H678.8 V2567.4 H663.7 V2570.5 H654.2 Z" fill="#d8e020"/>
<path d="M661.1 2556.2 H672.8 V2559.5 H678.8 V2562.5 H663.7 V2565 H661.1 Z" fill="#1a5a3a"/>
<path d="M457 2303.6 L464 2312 L465 2330 L468 2340 L462 2350 L448 2350 L445 2340 L433 2318 L437 2316 L449 2334 L452 2315 Z" fill="#d8d840" shape-rendering="geometricPrecision"/>
<rect x="453.3" y="2331.3" width="6.4" height="11" fill="#4a4a20"/>
<rect x="450" y="2556" width="5" height="10" fill="#000"/><rect x="450" y="2562" width="10" height="3" fill="#000"/>
<g fill="#c8ec60"><rect x="657" y="2506" width="4.1" height="31"/><rect x="679" y="2506" width="3" height="31"/><rect x="657" y="2518.5" width="25" height="3.7"/></g>
<g stroke="#30c040" stroke-width="3" fill="none" shape-rendering="geometricPrecision"><path d="M432 2439 L580 2456 M432 2465 L580 2445 M500 2425 V2460 M518 2425 V2522"/>
<path d="M1785 2533 L1943 2560 M1785 2562 L1943 2532"/>
<path d="M1109 2400 L1113 2440 L1116 2478 L1101 2532 M1124 2400 L1118 2440 L1116 2478 L1131 2532 M1089 2464 H1161"/></g>
<rect x="551.2" y="2368.3" width="21.3" height="51.7" fill="#00cc00"/><rect x="560" y="2378" width="4" height="32" fill="#001a00"/><rect x="555" y="2381" width="5" height="3" fill="#001a00"/>
<rect x="1103" y="2346" width="23.2" height="53.7" fill="#00cc00"/><rect x="1113" y="2356" width="4" height="34" fill="#001a00"/><rect x="1108" y="2359" width="5" height="3" fill="#001a00"/>
<rect x="1991.6" y="2509.8" width="22" height="55.2" fill="#00cc00"/><rect x="2001" y="2520" width="4" height="35" fill="#001a00"/><rect x="1996" y="2523" width="5" height="3" fill="#001a00"/>
<use href="#icV" x="501.3" y="2462.6" width="40.5" height="52.5"/>
<use href="#icV" x="1877" y="2462.6" width="40.5" height="52.5"/>
<use href="#icA" x="1307.6" y="2492" width="46.5" height="49.9"/>
<use href="#icA" x="1851" y="2524" width="46.5" height="49.9"/>
<use href="#icH" x="1186" y="2391.5" width="46.8" height="46.4"/>
<use href="#icH" x="1186" y="2536" width="46.8" height="46.4"/>
</svg></div>
</body></html>
